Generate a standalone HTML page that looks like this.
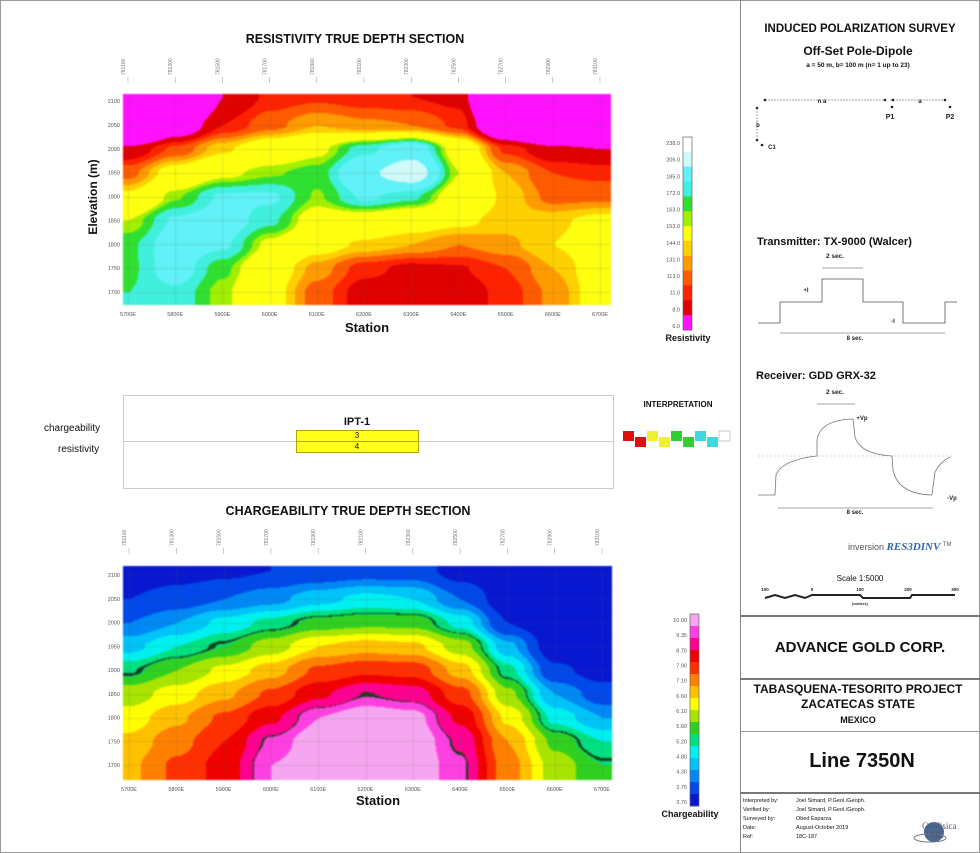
<!DOCTYPE html>
<html><head><meta charset="utf-8">
<style>
body{margin:0;width:980px;height:853px;background:#fff;position:relative;overflow:hidden;font-family:"Liberation Sans",sans-serif;color:#111}
.a{position:absolute;white-space:nowrap}
.b{font-weight:bold}
.c{transform:translateX(-50%)}
canvas{filter:blur(0.8px)}
</style></head><body>
<div style="position:absolute;left:0;top:0;width:978px;height:851px;border:1px solid #999"></div>

<div class="a b c" style="left:355px;top:32px;font-size:12.5px">RESISTIVITY TRUE DEPTH SECTION</div>
<div class="a b c" style="left:348px;top:504px;font-size:12.5px">CHARGEABILITY TRUE DEPTH SECTION</div>
<div class="a b" style="left:93px;top:197px;font-size:12px;transform:translate(-50%,-50%) rotate(-90deg)">Elevation (m)</div>

<svg id="svg" width="980" height="853" style="position:absolute;left:0;top:0"></svg>
<canvas id="resC" width="488" height="211" style="position:absolute;left:123px;top:94px"></canvas>
<canvas id="chgC" width="489" height="214" style="position:absolute;left:123px;top:566px"></canvas>
<svg id="ov" width="980" height="853" style="position:absolute;left:0;top:0"></svg>

<div class="a b c" style="left:367px;top:320px;font-size:13px">Station</div>
<div class="a b c" style="left:378px;top:793px;font-size:13px">Station</div>
<div class="a b c" style="left:688px;top:333px;font-size:9px">Resistivity</div>
<div class="a b c" style="left:690px;top:809px;font-size:9px">Chargeability</div>

<div style="position:absolute;left:123px;top:395px;width:489px;height:92px;border:1px solid #ccc"></div>
<div style="position:absolute;left:123px;top:441px;width:490px;height:1px;background:#ccc"></div>
<div class="a" style="left:44px;top:423px;font-size:10px">chargeability</div>
<div class="a" style="left:58px;top:444px;font-size:10px">resistivity</div>
<div class="a b c" style="left:357px;top:416px;font-size:11px">IPT-1</div>
<div style="position:absolute;left:296px;top:430px;width:121px;height:21px;background:#ffff1a;border:1px solid #b8a000"></div>
<div style="position:absolute;left:296px;top:441px;width:123px;height:1px;background:#b8a000"></div>
<div class="a c" style="left:357px;top:431px;font-size:8px">3</div>
<div class="a c" style="left:357px;top:442px;font-size:8px">4</div>
<div class="a b c" style="left:678px;top:400px;font-size:8px">INTERPRETATION</div>

<div style="position:absolute;left:740px;top:0;width:1px;height:853px;background:#888"></div>
<div class="a b c" style="left:860px;top:23px;font-size:11.5px">INDUCED POLARIZATION SURVEY</div>
<div class="a b c" style="left:858px;top:44px;font-size:12px">Off-Set Pole-Dipole</div>
<div class="a b c" style="left:858px;top:62px;font-size:6.5px">a = 50 m, b= 100 m (n= 1 up to 23)</div>
<div class="a b" style="left:757px;top:236px;font-size:11px">Transmitter: TX-9000 (Walcer)</div>
<div class="a b" style="left:756px;top:370px;font-size:11px">Receiver: GDD GRX-32</div>
<div class="a" style="left:848px;top:541px;font-size:9px;color:#555">inversion <span style="font-family:'Liberation Serif',serif;font-style:italic;font-weight:bold;color:#2a6aa8;font-size:11px">RES3DINV</span> <sup style="font-size:6px">TM</sup></div>
<div class="a c" style="left:860px;top:574px;font-size:8px">Scale 1:5000</div>
<div style="position:absolute;left:740px;top:615px;width:240px;height:2px;background:#777"></div>
<div style="position:absolute;left:740px;top:678px;width:240px;height:2px;background:#777"></div>
<div style="position:absolute;left:740px;top:731px;width:240px;height:1px;background:#999"></div>
<div style="position:absolute;left:740px;top:792px;width:240px;height:2px;background:#777"></div>
<div class="a b c" style="left:860px;top:639px;font-size:15px">ADVANCE GOLD CORP.</div>
<div class="a b c" style="left:858px;top:682px;font-size:12px">TABASQUENA-TESORITO PROJECT</div>
<div class="a b c" style="left:858px;top:697px;font-size:12px">ZACATECAS STATE</div>
<div class="a b c" style="left:858px;top:715px;font-size:9px">MEXICO</div>
<div class="a b c" style="left:862px;top:750px;font-size:20px">Line 7350N</div>
<div class="a" style="left:743px;top:797px;font-size:5.5px;line-height:9px">Interpreted by:<br>Verified by:<br>Surveyed by:<br>Date:<br>Ref:</div>
<div class="a" style="left:796px;top:797px;font-size:5.5px;line-height:9px">Joel Simard, P.Geol./Geoph.<br>Joel Simard, P.Geol./Geoph.<br>Obed Esparza<br>August-October 2019<br>18C-187</div>
<div class="a" style="left:922px;top:822px;font-size:9px;font-family:'Liberation Serif',serif;color:#557;line-height:9px">Geofisica<br>&nbsp;TMC</div>

<script>
const stations=[5700,5800,5900,6000,6100,6200,6300,6400,6500,6600,6700];
const elevations=[2110,2050,2000,1950,1900,1850,1800,1750,1700];
const elevTicks=[2100,2050,2000,1950,1900,1850,1800,1750,1700];
const stationLabels=['5700E','5800E','5900E','6000E','6100E','6200E','6300E','6400E','6500E','6600E','6700E'];
const resGrid=[
[10,10,100,115,118,115,113,110,10,10,10],
[10,80,113,125,135,130,128,118,60,10,10],
[105,122,140,155,165,185,200,160,118,105,100],
[125,150,165,172,176,205,225,168,135,120,118],
[145,172,190,190,172,190,182,158,140,125,126],
[168,190,196,182,160,158,150,145,138,140,146],
[178,196,190,165,148,140,135,128,133,142,150],
[178,195,175,152,132,116,110,112,120,135,150],
[180,186,170,148,124,108,104,107,116,130,150]];
const chgGrid=[
[3.8,3.9,4.0,4.1,4.2,4.3,4.3,3.9,3.7,3.7,3.7],
[4.1,4.3,4.5,4.7,5.0,5.2,5.1,4.5,3.8,3.7,3.7],
[4.5,4.8,5.2,5.5,5.8,5.9,5.9,5.3,4.1,3.7,3.7],
[5.0,5.4,5.7,6.2,6.8,7.0,6.9,6.2,4.9,3.8,3.7],
[5.6,6.0,6.5,7.0,7.8,8.1,8.0,7.0,5.5,4.2,3.9],
[6.2,6.6,7.1,7.8,8.6,9.2,9.0,7.9,6.1,4.8,4.3],
[6.6,7.1,7.8,8.6,9.6,10,9.8,8.6,6.7,5.3,4.8],
[6.9,7.5,8.2,9.3,10,10,10,9.1,7.2,5.9,5.4],
[7.1,7.8,8.4,9.6,10,10,10,9.3,7.4,6.2,5.7]];
const resLevels=[0,100,113,120,128,135,142,168,173,180,188,210];
const resColors=['#ff10ff','#e00000','#ff2200','#ff5a00','#ff9a00','#ffd000','#ffff10','#a0f000','#30e030','#40f0dc','#60f2f8','#d0fafa'];
const resLegendLabels=['238.0','206.0','185.0','172.0','163.0','153.0','144.0','131.0','113.0','11.0','8.0','6.0'];
const chgLevels=[0,4.1,4.5,4.8,5.1,5.4,5.7,6.0,6.4,6.8,7.2,7.7,8.2,8.7,9.2,9.6];
const chgColors=['#0818d0','#0048e8','#0088f4','#00c4f8','#00f0f0','#00e080','#30d020','#a8e400','#ffff00','#ffc000','#ff8000','#ff3000','#f00000','#ff0090','#ff40e0','#f6a6f0'];
const chgLegendLabels=['10.00','9.35','8.70','7.90','7.10','6.60','6.10','5.60','5.20','4.80','4.30','3.70','3.70'];

function mkX(x0,x1){return s=>x0+(s-5700)/1000*(x1-x0);}
function mkY(y0,y1){return e=>y0+(2100-e)/400*(y1-y0);}
const resX=mkX(128,600), resY=mkY(101,292);
const chgX=mkX(129,602), chgY=mkY(575,765);
const NS='http://www.w3.org/2000/svg';
const svg=document.getElementById('svg'), ov=document.getElementById('ov');
function el(p,t,a){const e=document.createElementNS(NS,t);for(const k in a)e.setAttribute(k,a[k]);p.appendChild(e);return e;}
function hex(c){return [parseInt(c.substr(1,2),16),parseInt(c.substr(3,2),16),parseInt(c.substr(5,2),16)];}
function sample(g,s,e){
  let fx=(s-stations[0])/100;fx=Math.max(0,Math.min(stations.length-1,fx));
  let fy=0;
  if(e>=elevations[0])fy=0;else if(e<=elevations[elevations.length-1])fy=elevations.length-1;
  else{for(let i=0;i<elevations.length-1;i++){if(e<=elevations[i]&&e>=elevations[i+1]){fy=i+(elevations[i]-e)/(elevations[i]-elevations[i+1]);break;}}}
  const i0=Math.min(Math.floor(fx),stations.length-2),j0=Math.min(Math.floor(fy),elevations.length-2);
  const tx=fx-i0,ty=fy-j0;
  const sx=tx*tx*(3-2*tx), sy=ty*ty*(3-2*ty);
  const a=g[j0][i0],b=g[j0][i0+1],c=g[j0+1][i0],d=g[j0+1][i0+1];
  return (a*(1-sx)+b*sx)*(1-sy)+(c*(1-sx)+d*sx)*sy;
}
function render(id,g,X,Y,ox,oy,lv,cs,lines){
  const cv=document.getElementById(id),ctx=cv.getContext('2d');
  const W=cv.width,H=cv.height,img=ctx.createImageData(W,H);
  const x0=X(5700),x1=X(6700),y0=Y(2100),y1=Y(1700);
  const rgb=cs.map(hex);
  for(let py=0;py<H;py++){const e=2100-(py+oy-y0)/(y1-y0)*400;
    for(let px=0;px<W;px++){const s=5700+(px+ox-x0)/(x1-x0)*1000;
      const v=sample(g,s,e);let k=0;for(let i=0;i<lv.length;i++)if(v>=lv[i])k=i;
      let c=rgb[k];
      for(const L of lines){if(Math.abs(v-L[0])<L[1]){c=[20,60,20];}}
      const o=(py*W+px)*4;img.data[o]=c[0];img.data[o+1]=c[1];img.data[o+2]=c[2];img.data[o+3]=255;}}
  ctx.putImageData(img,0,0);
  ctx.strokeStyle='rgba(90,90,90,0.18)';ctx.lineWidth=1;
  stations.forEach(s=>{const x=Math.round(X(s)-ox)+.5;ctx.beginPath();ctx.moveTo(x,0);ctx.lineTo(x,H);ctx.stroke();});
  elevTicks.forEach(t=>{const y=Math.round(Y(t)-oy)+.5;ctx.beginPath();ctx.moveTo(0,y);ctx.lineTo(W,y);ctx.stroke();});
}
render('resC',resGrid,resX,resY,123,94,resLevels,resColors,[]);
render('chgC',chgGrid,chgX,chgY,123,566,chgLevels,chgColors,[[5.65,0.025],[9.2,0.02]]);

function axes(X,Y,left,bottom,topY,pre){
  elevTicks.forEach(t=>{const e=el(ov,'text',{x:left-3,y:Y(t)+2,'font-size':5.5,'text-anchor':'end',fill:'#555','font-family':'Liberation Sans'});e.textContent=t;
    
    });
  stations.forEach((s,i)=>{const e=el(ov,'text',{x:X(s),y:bottom+11,'font-size':5.5,'text-anchor':'middle',fill:'#555','font-family':'Liberation Sans'});e.textContent=stationLabels[i];
    
    
    const t=el(ov,'text',{x:0,y:0,'font-size':5,fill:'#777','font-family':'Liberation Sans',transform:`translate(${X(s)-3},${topY}) rotate(-90)`});t.textContent=(7811+i*2)+'00';
    
    
    const l=el(ov,'line',{x1:X(s),x2:X(s),y1:topY+2,y2:topY+8,stroke:'#aaa','stroke-width':0.6});
    
    });
}
axes(resX,resY,123,305,75,'res-');
axes(chgX,chgY,123,780,546,'chg-');

function legend(x,yTop,yBot,cs,labels,pre){
  const n=cs.length,h=(yBot-yTop)/n;
  cs.slice().reverse().forEach((c,i)=>{const r=el(svg,'rect',{x:x,y:yTop+i*h,width:9,height:h+0.5,fill:c});
    
    });
  el(svg,'rect',{x:x,y:yTop,width:9,height:yBot-yTop,fill:'none',stroke:'#666','stroke-width':0.7});
  labels.forEach((l,i)=>{const y=yTop+6+i*(yBot-yTop-10)/(labels.length-1);
    const t=el(svg,'text',{x:x-3,y:y+2,'font-size':5.5,'text-anchor':'end',fill:'#555','font-family':'Liberation Sans'});t.textContent=l;
    
    });
}
legend(683,137,330,resColors.concat(['#ffffff']),resLegendLabels,'res-');
legend(690,614,806,chgColors,chgLegendLabels,'chg-');

const interpColors=['#e01010','#e01010','#f0f030','#f0f030','#30d030','#30d030','#40d8e0','#40d8e0','#ffffff'];
interpColors.forEach((c,i)=>{const r=el(svg,'rect',{x:623+i*12,y:431+(i%2)*6,width:11,height:10,fill:c,stroke:c=='#ffffff'?'#999':'none','stroke-width':0.5});
  
  });

const g=ov;
function L(a){const l=el(g,'line',Object.assign({stroke:'#888','stroke-width':0.8},a));return l;}
function T(x,y,s,txt,fs,anc){const t=el(g,'text',{x:x,y:y,'font-size':fs||7,'text-anchor':anc||'middle',fill:'#222','font-family':'Liberation Sans','font-weight':'bold'});t.textContent=txt;return t;}
L({x1:765,y1:100,x2:885,y2:100,'stroke-dasharray':'2 1'});L({x1:890,y1:100,x2:945,y2:100,'stroke-dasharray':'2 1'});
[[765,100],[885,100],[893,100],[945,100],[892,107],[950,107],[757,108],[757,140],[762,145]].forEach(p=>el(g,'circle',{cx:p[0],cy:p[1],r:1.3,fill:'#222'}));
L({x1:757,y1:108,x2:757,y2:140,'stroke-dasharray':'2 1'});
T(822,103,0,'n a',6);T(920,103,0,'a',6);T(890,119,0,'P1',7);T(950,119,0,'P2',7);T(758,127,0,'b',6);T(772,149,0,'C1',6);
T(835,258,0,'2 sec.',6.5);L({x1:822,y1:268,x2:863,y2:268});
el(g,'polyline',{points:'758,323 780,323 780,302 822,302 822,279 863,279 863,302 903,302 903,323 945,323 945,302 957,302',fill:'none',stroke:'#555','stroke-width':0.8});
T(806,292,0,'+I',6);T(893,323,0,'-I',6);
L({x1:780,y1:333,x2:945,y2:333});T(855,340,0,'8 sec.',6);
T(835,394,0,'2 sec.',6.5);L({x1:817,y1:404,x2:855,y2:404});
el(g,'line',{x1:758,y1:456,x2:955,y2:456,stroke:'#aaa','stroke-width':0.6,'stroke-dasharray':'2 2'});
el(g,'path',{d:'M758,495 L775,495 L776,475 Q782,460 817,456 L817,440 Q820,420 853,419 L855,437 Q860,454 892,456 L893,470 Q898,494 932,495 L935,472 Q940,462 950,457',fill:'none',stroke:'#777','stroke-width':0.8});
T(862,420,0,'+Vp',6);T(952,500,0,'-Vp',6);
L({x1:778,y1:508,x2:933,y2:508});T(855,514,0,'8 sec.',6);
el(g,'path',{d:'M765,598 L775,595 L785,598 L795,595 L805,598 L812,595 L860,595 L863,598 L910,598 L912,595 L955,595',fill:'none',stroke:'#222','stroke-width':2});
['100','0','100','200','300'].forEach((t,i)=>{T([765,812,860,908,955][i],591,0,t,4.5);});
T(860,605,0,'(meters)',4);
el(g,'circle',{cx:934,cy:832,r:10,fill:'#4a6a90'});el(g,'ellipse',{cx:930,cy:838,rx:16,ry:4,fill:'none',stroke:'#778','stroke-width':1});
</script>
</body></html>
